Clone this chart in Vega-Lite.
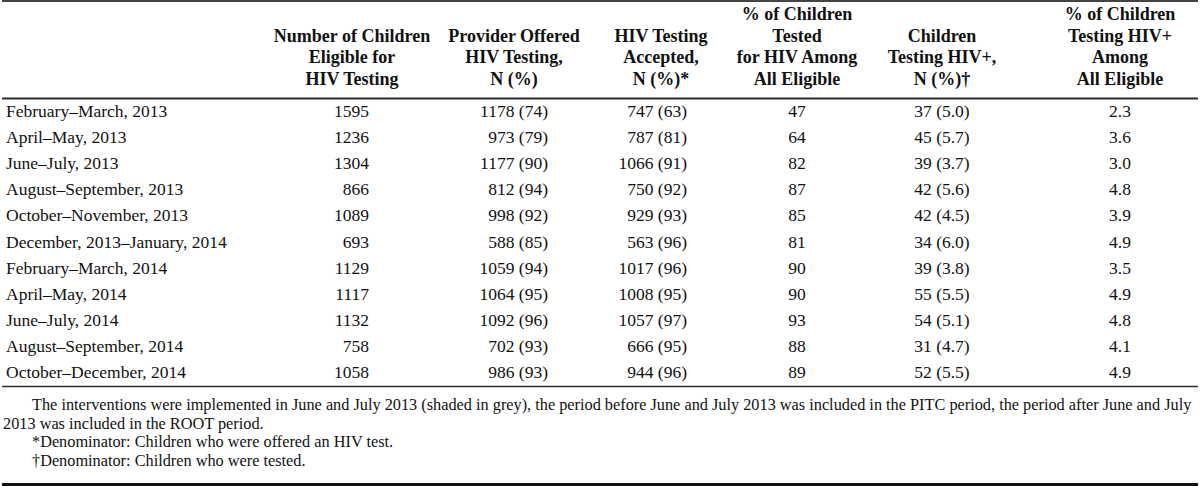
{
  "$schema": "https://vega.github.io/schema/vega-lite/v6.json",
  "width": 1200,
  "height": 486,
  "autosize": {"type": "fit", "contains": "padding"},
  "padding": 0,
  "background": "white",
  "config": {
    "view": {"stroke": null},
    "axis": {"disable": true},
    "text": {"font": "Liberation Serif", "fontSize": 17.5, "color": "#111111"},
    "rule": {"color": "#2b2b2b"}
  },
  "datasets": {
    "rows": [
      {"period": "February–March, 2013", "eligible": 1595, "offered": 1178, "offeredPct": 74, "accepted": 747, "acceptedPct": 63, "pctTested": 47, "positive": 37, "positivePct": 5.0, "pctPositive": 2.3},
      {"period": "April–May, 2013", "eligible": 1236, "offered": 973, "offeredPct": 79, "accepted": 787, "acceptedPct": 81, "pctTested": 64, "positive": 45, "positivePct": 5.7, "pctPositive": 3.6},
      {"period": "June–July, 2013", "eligible": 1304, "offered": 1177, "offeredPct": 90, "accepted": 1066, "acceptedPct": 91, "pctTested": 82, "positive": 39, "positivePct": 3.7, "pctPositive": 3.0},
      {"period": "August–September, 2013", "eligible": 866, "offered": 812, "offeredPct": 94, "accepted": 750, "acceptedPct": 92, "pctTested": 87, "positive": 42, "positivePct": 5.6, "pctPositive": 4.8},
      {"period": "October–November, 2013", "eligible": 1089, "offered": 998, "offeredPct": 92, "accepted": 929, "acceptedPct": 93, "pctTested": 85, "positive": 42, "positivePct": 4.5, "pctPositive": 3.9},
      {"period": "December, 2013–January, 2014", "eligible": 693, "offered": 588, "offeredPct": 85, "accepted": 563, "acceptedPct": 96, "pctTested": 81, "positive": 34, "positivePct": 6.0, "pctPositive": 4.9},
      {"period": "February–March, 2014", "eligible": 1129, "offered": 1059, "offeredPct": 94, "accepted": 1017, "acceptedPct": 96, "pctTested": 90, "positive": 39, "positivePct": 3.8, "pctPositive": 3.5},
      {"period": "April–May, 2014", "eligible": 1117, "offered": 1064, "offeredPct": 95, "accepted": 1008, "acceptedPct": 95, "pctTested": 90, "positive": 55, "positivePct": 5.5, "pctPositive": 4.9},
      {"period": "June–July, 2014", "eligible": 1132, "offered": 1092, "offeredPct": 96, "accepted": 1057, "acceptedPct": 97, "pctTested": 93, "positive": 54, "positivePct": 5.1, "pctPositive": 4.8},
      {"period": "August–September, 2014", "eligible": 758, "offered": 702, "offeredPct": 93, "accepted": 666, "acceptedPct": 95, "pctTested": 88, "positive": 31, "positivePct": 4.7, "pctPositive": 4.1},
      {"period": "October–December, 2014", "eligible": 1058, "offered": 986, "offeredPct": 93, "accepted": 944, "acceptedPct": 96, "pctTested": 89, "positive": 52, "positivePct": 5.5, "pctPositive": 4.9}
    ],
    "header": [
      {"col": 1, "line": 2, "text": "Number of Children"},
      {"col": 1, "line": 3, "text": "Eligible for"},
      {"col": 1, "line": 4, "text": "HIV Testing"},
      {"col": 2, "line": 2, "text": "Provider Offered"},
      {"col": 2, "line": 3, "text": "HIV Testing,"},
      {"col": 2, "line": 4, "text": "N (%)"},
      {"col": 3, "line": 2, "text": "HIV Testing"},
      {"col": 3, "line": 3, "text": "Accepted,"},
      {"col": 3, "line": 4, "text": "N (%)*"},
      {"col": 4, "line": 1, "text": "% of Children"},
      {"col": 4, "line": 2, "text": "Tested"},
      {"col": 4, "line": 3, "text": "for HIV Among"},
      {"col": 4, "line": 4, "text": "All Eligible"},
      {"col": 5, "line": 2, "text": "Children"},
      {"col": 5, "line": 3, "text": "Testing HIV+,"},
      {"col": 5, "line": 4, "text": "N (%)†"},
      {"col": 6, "line": 1, "text": "% of Children"},
      {"col": 6, "line": 2, "text": "Testing HIV+"},
      {"col": 6, "line": 3, "text": "Among"},
      {"col": 6, "line": 4, "text": "All Eligible"}
    ],
    "notes": [
      {"line": 1, "text": "The interventions were implemented in June and July 2013 (shaded in grey), the period before June and July 2013 was included in the PITC period, the period after June and July"},
      {"line": 2, "text": "2013 was included in the ROOT period."},
      {"line": 3, "text": "*Denominator: Children who were offered an HIV test."},
      {"line": 4, "text": "†Denominator: Children who were tested."}
    ]
  },
  "resolve": {"scale": {"x": "independent", "y": "independent"}},
  "layer": [
    {
      "data": {"values": [{"edge": "top"}]},
      "mark": {"type": "rule", "strokeWidth": 2, "color": "#444444"},
      "encoding": {"y": {"field": "edge", "type": "nominal", "scale": {"type": "point", "domain": ["top", "bottom"], "range": [1, 484.5], "padding": 0}}}
    },
    {
      "data": {"values": [{"edge": "bottom"}]},
      "mark": {"type": "rule", "strokeWidth": 3, "color": "#111111"},
      "encoding": {"y": {"field": "edge", "type": "nominal", "scale": {"type": "point", "domain": ["top", "bottom"], "range": [1, 484.5], "padding": 0}}}
    },
    {
      "data": {"name": "header"},
      "mark": {"type": "text", "fontWeight": "bold", "align": "center", "baseline": "middle", "fontSize": 18},
      "encoding": {
        "x": {"field": "col", "type": "quantitative", "scale": {"type": "linear", "domain": [0, 1, 2, 3, 4, 5, 6], "range": [4, 350, 512, 659, 795, 940, 1118]}},
        "y": {"field": "line", "type": "ordinal", "scale": {"type": "point", "domain": [1, 2, 3, 4], "range": [15, 80], "padding": 0}},
        "text": {"field": "text"}
      }
    },
    {
      "data": {"name": "notes"},
      "transform": [{"filter": "datum.line != 2"}],
      "mark": {"type": "text", "align": "left", "baseline": "middle", "dx": 26, "fontSize": 16.3},
      "encoding": {
        "x": {"datum": 0, "type": "quantitative", "scale": {"type": "linear", "domain": [0, 1, 2, 3, 4, 5, 6], "range": [4, 350, 512, 659, 795, 940, 1118]}},
        "y": {"field": "line", "type": "ordinal", "scale": {"type": "point", "domain": [1, 2, 3, 4], "range": [405, 461], "padding": 0}},
        "text": {"field": "text"}
      }
    },
    {
      "data": {"name": "notes"},
      "transform": [{"filter": "datum.line == 2"}],
      "mark": {"type": "text", "align": "left", "baseline": "middle", "dx": -3, "fontSize": 16.3},
      "encoding": {
        "x": {"datum": 0, "type": "quantitative", "scale": {"type": "linear", "domain": [0, 1, 2, 3, 4, 5, 6], "range": [4, 350, 512, 659, 795, 940, 1118]}},
        "y": {"field": "line", "type": "ordinal", "scale": {"type": "point", "domain": [1, 2, 3, 4], "range": [405, 461], "padding": 0}},
        "text": {"field": "text"}
      }
    },
    {
      "data": {"values": [{}]},
      "mark": {"type": "rule", "strokeWidth": 2},
      "encoding": {
        "y": {"datum": "February–March, 2013", "type": "nominal", "bandPosition": 0, "scale": {"type": "band", "domain": ["February–March, 2013", "April–May, 2013", "June–July, 2013", "August–September, 2013", "October–November, 2013", "December, 2013–January, 2014", "February–March, 2014", "April–May, 2014", "June–July, 2014", "August–September, 2014", "October–December, 2014"], "range": [98.5, 386.5], "paddingInner": 0, "paddingOuter": 0}}
      }
    },
    {
      "data": {"values": [{}]},
      "mark": {"type": "rule", "strokeWidth": 1.5},
      "encoding": {
        "y": {"datum": "October–December, 2014", "type": "nominal", "bandPosition": 1, "scale": {"type": "band", "domain": ["February–March, 2013", "April–May, 2013", "June–July, 2013", "August–September, 2013", "October–November, 2013", "December, 2013–January, 2014", "February–March, 2014", "April–May, 2014", "June–July, 2014", "August–September, 2014", "October–December, 2014"], "range": [98.5, 386.5], "paddingInner": 0, "paddingOuter": 0}}
      }
    },
    {
      "data": {"name": "rows"},
      "transform": [
        {"calculate": "datum.offered + ' (' + datum.offeredPct + ')'", "as": "offeredTxt"},
        {"calculate": "datum.accepted + ' (' + datum.acceptedPct + ')'", "as": "acceptedTxt"},
        {"calculate": "datum.positive + ' (' + format(datum.positivePct, '.1f') + ')'", "as": "positiveTxt"},
        {"calculate": "format(datum.pctPositive, '.1f')", "as": "pctPositiveTxt"}
      ],
      "encoding": {
        "y": {"field": "period", "type": "nominal", "bandPosition": 0.5, "scale": {"type": "band", "domain": ["February–March, 2013", "April–May, 2013", "June–July, 2013", "August–September, 2013", "October–November, 2013", "December, 2013–January, 2014", "February–March, 2014", "April–May, 2014", "June–July, 2014", "August–September, 2014", "October–December, 2014"], "range": [98.5, 386.5], "paddingInner": 0, "paddingOuter": 0}}
      },
      "layer": [
        {
          "mark": {"type": "text", "align": "left", "baseline": "middle"},
          "encoding": {
            "x": {"datum": 0, "type": "quantitative", "scale": {"type": "linear", "domain": [0, 1, 2, 3, 4, 5, 6], "range": [4, 350, 512, 659, 795, 940, 1118]}},
            "text": {"field": "period"}
          }
        },
        {
          "mark": {"type": "text", "align": "right", "baseline": "middle", "dx": 17},
          "encoding": {
            "x": {"datum": 1, "type": "quantitative", "scale": {"type": "linear", "domain": [0, 1, 2, 3, 4, 5, 6], "range": [4, 350, 512, 659, 795, 940, 1118]}},
            "text": {"field": "eligible"}
          }
        },
        {
          "mark": {"type": "text", "align": "right", "baseline": "middle", "dx": 34},
          "encoding": {
            "x": {"datum": 2, "type": "quantitative", "scale": {"type": "linear", "domain": [0, 1, 2, 3, 4, 5, 6], "range": [4, 350, 512, 659, 795, 940, 1118]}},
            "text": {"field": "offeredTxt"}
          }
        },
        {
          "mark": {"type": "text", "align": "right", "baseline": "middle", "dx": 26},
          "encoding": {
            "x": {"datum": 3, "type": "quantitative", "scale": {"type": "linear", "domain": [0, 1, 2, 3, 4, 5, 6], "range": [4, 350, 512, 659, 795, 940, 1118]}},
            "text": {"field": "acceptedTxt"}
          }
        },
        {
          "mark": {"type": "text", "align": "center", "baseline": "middle"},
          "encoding": {
            "x": {"datum": 4, "type": "quantitative", "scale": {"type": "linear", "domain": [0, 1, 2, 3, 4, 5, 6], "range": [4, 350, 512, 659, 795, 940, 1118]}},
            "text": {"field": "pctTested"}
          }
        },
        {
          "mark": {"type": "text", "align": "center", "baseline": "middle"},
          "encoding": {
            "x": {"datum": 5, "type": "quantitative", "scale": {"type": "linear", "domain": [0, 1, 2, 3, 4, 5, 6], "range": [4, 350, 512, 659, 795, 940, 1118]}},
            "text": {"field": "positiveTxt"}
          }
        },
        {
          "mark": {"type": "text", "align": "center", "baseline": "middle"},
          "encoding": {
            "x": {"datum": 6, "type": "quantitative", "scale": {"type": "linear", "domain": [0, 1, 2, 3, 4, 5, 6], "range": [4, 350, 512, 659, 795, 940, 1118]}},
            "text": {"field": "pctPositiveTxt"}
          }
        }
      ]
    }
  ]
}
